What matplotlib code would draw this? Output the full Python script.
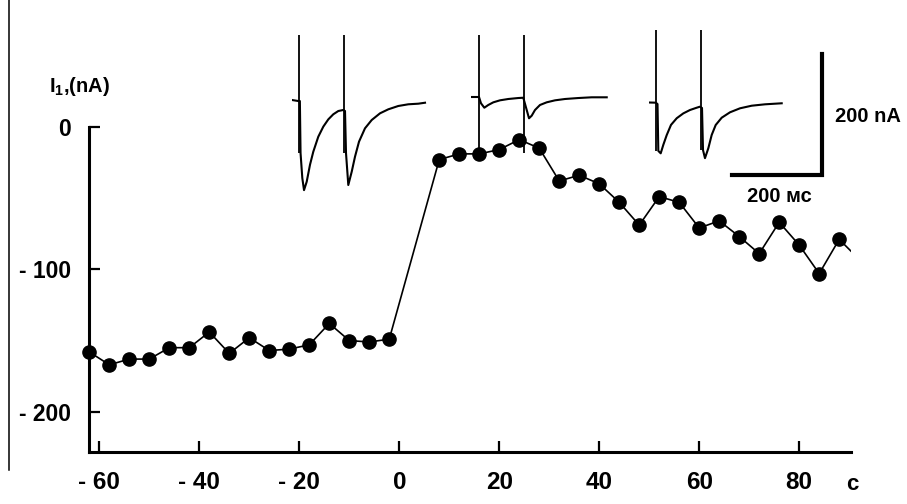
import numpy as np
import matplotlib
matplotlib.use('Agg')
import matplotlib.pyplot as plt
from matplotlib.lines import Line2D

plt.rcParams['font.family'] = ['Liberation Sans', 'DejaVu Sans']
plt.rcParams['font.weight'] = 'bold'
plt.rcParams['mathtext.fontset'] = 'custom'
plt.rcParams['mathtext.rm'] = 'Liberation Sans:bold'
plt.rcParams['mathtext.bf'] = 'Liberation Sans:bold'

# main plot: time (s) vs current I1 (nA)
time_before = [-62, -58, -54, -50, -46, -42, -38, -34, -30, -26, -22, -18, -14, -10, -6, -2]
current_before = [-158, -167, -163, -163, -155, -155, -144, -159, -148, -157, -156, -153,
                  -138, -150, -151, -149]
time_after = [8, 12, 16, 20, 24, 28, 32, 36, 40, 44, 48, 52, 56, 60, 64, 68, 72, 76, 80, 84, 88, 92]
current_after = [-23, -19, -19, -16, -9, -15, -38, -34, -40, -53, -69, -49, -53, -71, -66,
                 -77, -89, -67, -83, -103, -79, -93]

xticks = [-60, -40, -20, 0, 20, 40, 60, 80]
xtick_labels = ['- 60', '- 40', '- 20', '0', '20', '40', '60', '80']
yticks = [0, -100, -200]
ytick_labels = ['0', '- 100', '- 200']

# inset current traces: time (ms), current (nA)
trace1_t = [0, 14, 17.5, 19, 22.9, 26.7, 32.7, 40, 47.3, 58.4, 69.6, 80.7, 91.8, 102.9, 114,
            117.8, 120, 125.1, 132.7, 140, 148.9, 162.2, 177.1, 195.6, 214, 236.2, 258.4, 280.7, 295.6]
trace1_i = [0, -1.7, -1.7, -87.6, -129, -149, -135, -107, -85.5, -60.7, -44, -32, -23.6, -18.2, -16.5,
            -18.2, -87.6, -140.5, -118.5, -93.7, -68.9, -46.8, -33.1, -22, -15.4, -9.9, -7.1, -6.1, -4.5]
trace1_art_t = [15.6, 116.2]
trace1_art_top = [107, 107]
trace1_art_bot = [-88, -88]

trace2_t = [0, 17.8, 22.2, 29.6, 38.4, 49.6, 64.4, 82.9, 105, 116.2,
            123.8, 128.9, 134.9, 142.2, 153.3, 168.2, 186.7, 208.9, 238.4, 268.2, 301.6]
trace2_i = [0, 0, -10.4, -17.7, -13.2, -8.8, -5.5, -3.3, -1.7, -1.2,
            -21.5, -35.2, -30.9, -21.5, -13.2, -8.8, -5.5, -3.3, -1.7, -0.5, -0.5]
trace2_art_t = [17.8, 118.4]
trace2_art_top = [102, 102]
trace2_art_bot = [-93, -93]

trace3_t = [0, 14.9, 18.9, 20.7, 26, 31.8, 39.3, 48.9, 61.6, 76.2, 91.1, 106, 113.3,
            117.8, 120, 124.4, 131.8, 139.3, 148.2, 161.6, 180, 202.2, 228.2, 257.8, 294.9]
trace3_i = [0, -0.3, -2.5, -80, -84, -70, -54, -37, -26, -18, -12.4, -8.6, -6.9,
            -9.1, -78.5, -92, -75.7, -53.7, -37.2, -25.1, -16.2, -9.6, -5.3, -3, -1.3]
trace3_art_t = [15.6, 114.9]
trace3_art_top = [120, 120]
trace3_art_bot = [-80, -78]

scale_ms = 200
scale_nA = 200

W, H = 907, 504
fig = plt.figure(figsize=(W / 100, H / 100), dpi=100)

# main axes (pixel placement)
ax = fig.add_axes([89.3 / W, (H - 452) / H, 761.4 / W, 325.2 / H])
ax.plot(time_before + time_after, current_before + current_after, color='black', lw=1.2)
ax.plot(time_before + time_after[:-1], current_before + current_after[:-1], 'o',
        color='black', ms=9.5, clip_on=False, zorder=3)
ax.set_xlim(-62, 90.3)
ax.set_ylim(-228.2, 0)
for s in ['top', 'right']:
    ax.spines[s].set_visible(False)
for s in ['left', 'bottom']:
    ax.spines[s].set_linewidth(2.2)
ax.set_xticks(xticks)
ax.set_xticklabels(xtick_labels, fontsize=17.5, fontweight='bold')
ax.set_yticks(yticks)
ax.set_yticklabels(ytick_labels, fontsize=16.5, fontweight='bold')
ax.tick_params(axis='x', direction='in', length=8, width=1.6, pad=14)
ax.tick_params(axis='y', direction='in', length=8, width=1.6, pad=13)
ax.patch.set_alpha(0)

fig.text(80 / W, 1 - 87 / H, r'I$_\mathbf{1}$,(nA)', fontsize=14.5, fontweight='bold',
         ha='center', va='center')
fig.text(852 / W, 1 - 485 / H, 'c', fontsize=16, fontweight='bold', ha='center', va='center')
fig.add_artist(Line2D([9 / W, 9 / W], [1, 1 - 470 / H], color='black', lw=1.1))

# inset traces
ms_px, nA_px = 0.45, 0.605


def trace_axes(left_px, base_px):
    a = fig.add_axes([left_px / W, (H - (base_px + 170 * nA_px)) / H,
                      310 * ms_px / W, 300 * nA_px / H])
    a.set_xlim(0, 310)
    a.set_ylim(-170, 130)
    a.axis('off')
    return a


for left, base, t, i, at, atop, abot in [
        (292, 100, trace1_t, trace1_i, trace1_art_t, trace1_art_top, trace1_art_bot),
        (471, 97, trace2_t, trace2_i, trace2_art_t, trace2_art_top, trace2_art_bot),
        (649, 102.5, trace3_t, trace3_i, trace3_art_t, trace3_art_top, trace3_art_bot)]:
    a = trace_axes(left, base)
    a.plot(t, i, color='black', lw=1.5)
    a.vlines(at, abot, atop, color='black', lw=1.3)

# scale bar
sb = fig.add_axes([731.7 / W, (H - 175) / H, scale_ms * ms_px / W, scale_nA * nA_px / H])
sb.set_xlim(0, scale_ms)
sb.set_ylim(0, scale_nA)
sb.axis('off')
sb.plot([0, scale_ms, scale_ms], [0, 0, scale_nA], color='black', lw=3,
        clip_on=False, solid_joinstyle='miter')
sb.text(303, 96, '200 nA', fontsize=14.5, fontweight='bold', ha='center', va='center')
sb.text(105, -36, '200 мс', fontsize=14.5, fontweight='bold', ha='center', va='center')

fig.savefig('out.png', dpi=100)
